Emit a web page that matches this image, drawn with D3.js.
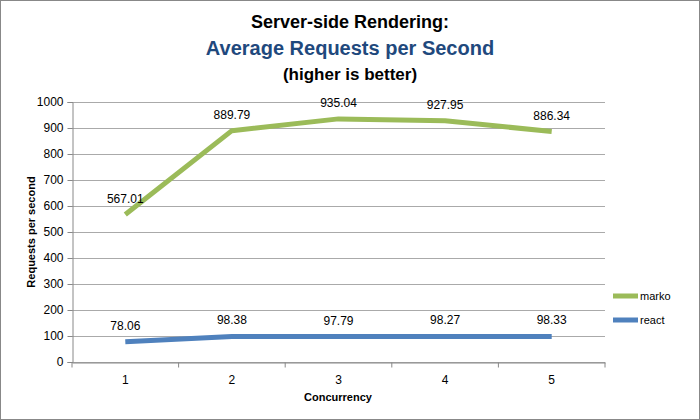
<!DOCTYPE html>
<html><head><meta charset="utf-8">
<script src="https://cdn.jsdelivr.net/npm/d3@7"></script>
<style>body{margin:0;background:#fff}text{font-family:"Liberation Sans",Arial,sans-serif}</style>
</head><body>
<svg id="c" width="700" height="420"></svg>
<script>
var categories = ['1', '2', '3', '4', '5'];
var marko = [567.01, 889.79, 935.04, 927.95, 886.34];
var react = [78.06, 98.38, 97.79, 98.27, 98.33];
var yTicks = [0, 100, 200, 300, 400, 500, 600, 700, 800, 900, 1000];

var svg = d3.select('#c');
svg.append('rect').attr('x', 0.5).attr('y', 0.5).attr('width', 699).attr('height', 419)
    .attr('fill', '#fff').attr('stroke', '#888');

var x = d3.scaleBand().domain(categories).range([72, 605]);
var y = d3.scaleLinear().domain([0, 1000]).range([362, 102]);

// grid
svg.append('g').selectAll('line').data(yTicks).enter().append('line')
    .attr('x1', 72).attr('x2', 605)
    .attr('y1', function (d) { return y(d) + 0.5 }).attr('y2', function (d) { return y(d) + 0.5 })
    .attr('stroke', '#aaa').attr('stroke-width', 1);

var gy = svg.append('g').attr('transform', 'translate(72.5,0)')
    .call(d3.axisLeft(y).tickValues(yTicks).tickFormat(d3.format('d')).tickSize(5).tickPadding(4));
gy.select('.domain').attr('stroke', '#888');
gy.selectAll('.tick line').attr('stroke', '#888');
gy.selectAll('text').attr('font-size', 12).attr('fill', '#000');

var gx = svg.append('g').attr('transform', 'translate(0,362.5)')
    .call(d3.axisBottom(x).tickSize(0).tickPadding(13));
gx.select('.domain').attr('stroke', '#888');
gx.selectAll('text').attr('font-size', 12).attr('fill', '#000');
gx.selectAll('.sep').data(d3.range(categories.length + 1)).enter().append('line')
    .attr('x1', function (i) { return 72 + i * x.bandwidth() }).attr('x2', function (i) { return 72 + i * x.bandwidth() })
    .attr('y1', 0).attr('y2', 5).attr('stroke', '#888');

var cx = function (d, i) { return x(categories[i]) + x.bandwidth() / 2 };
var line = d3.line().x(cx).y(function (d) { return y(d) });

var series = [{ name: 'marko', values: marko, color: '#9bbb59' }, { name: 'react', values: react, color: '#4f81bd' }];
series.forEach(function (s) {
    svg.append('path').attr('d', line(s.values)).attr('fill', 'none')
        .attr('stroke', s.color).attr('stroke-width', 5).attr('stroke-linejoin', 'round');
    svg.append('g').selectAll('text').data(s.values).enter().append('text')
        .attr('x', cx).attr('y', function (d) { return y(d) - 12 })
        .attr('text-anchor', 'middle').attr('font-size', 12).text(function (d) { return d.toFixed(2) });
});

// legend
series.forEach(function (s, i) {
    var ly = 296 + i * 24;
    svg.append('line').attr('x1', 613).attr('x2', 638).attr('y1', ly).attr('y2', ly)
        .attr('stroke', s.color).attr('stroke-width', 5);
    svg.append('text').attr('x', 640).attr('y', ly + 4).attr('font-size', 11).text(s.name);
});

// titles
svg.append('text').attr('x', 350).attr('y', 28).attr('text-anchor', 'middle')
    .attr('font-size', 18).attr('font-weight', 'bold').text('Server-side Rendering:');
svg.append('text').attr('x', 350).attr('y', 55).attr('text-anchor', 'middle')
    .attr('font-size', 20).attr('font-weight', 'bold').attr('fill', '#1f497d').text('Average Requests per Second');
svg.append('text').attr('x', 350).attr('y', 80).attr('text-anchor', 'middle')
    .attr('font-size', 17).attr('font-weight', 'bold').text('(higher is better)');
svg.append('text').attr('x', 338).attr('y', 401).attr('text-anchor', 'middle')
    .attr('font-size', 11).attr('font-weight', 'bold').text('Concurrency');
svg.append('text').attr('transform', 'translate(35,232) rotate(-90)').attr('text-anchor', 'middle')
    .attr('font-size', 11).attr('font-weight', 'bold').text('Requests per second');
</script>
</body></html>
